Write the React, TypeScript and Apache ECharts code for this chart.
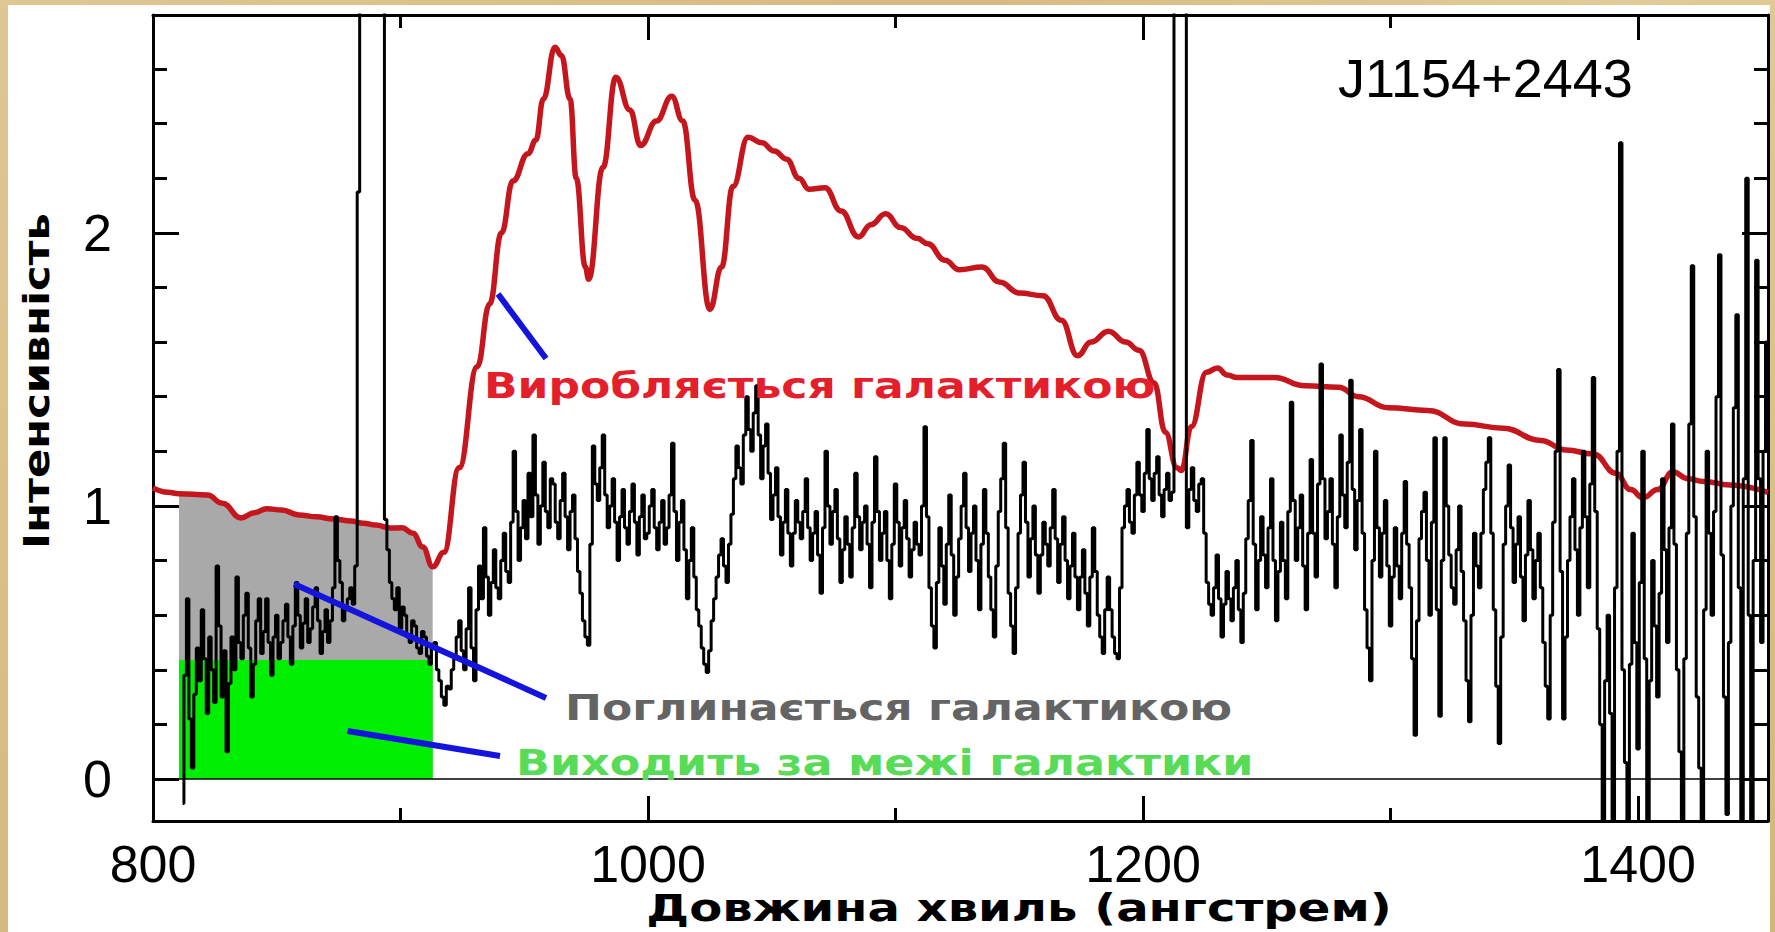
import React, { useEffect, useRef } from "react";
import * as echarts from "echarts";

// Observed spectrum: flux sampled every 1 Å starting at 812 Å
const lambdaStart = 812;
const lambdaStep = 1;

const flux0812 = [
  -0.09, 0.38, 0.66, 0.22, 0.04, 0.31, 0.48, 0.36, 0.62, 0.44,
  0.24, 0.52, 0.4, 0.28, 0.78, 0.56, 0.3, 0.47, 0.1, 0.35,
  0.52, 0.4, 0.74, 0.5, 0.44, 0.6, 0.68, 0.48, 0.3, 0.42,
  0.58, 0.66, 0.46, 0.54, 0.66, 0.5, 0.38, 0.52, 0.6, 0.44,
  0.5, 0.58, 0.64, 0.52, 0.42, 0.56, 0.72, 0.6, 0.48, 0.57,
  0.66, 0.5, 0.55, 0.63, 0.7, 0.58, 0.46, 0.54, 0.62, 0.5,
  0.58, 0.7, 0.96, 0.8, 0.72, 0.58, 0.62, 0.66, 0.7, 0.64,
  0.78, 2.15, 4.0, 4.0, 4.0, 4.0, 4.0, 4.0, 4.0, 4.0,
  4.0, 4.0, 0.95, 0.84, 0.72, 0.66, 0.62, 0.7, 0.55, 0.63,
  0.6, 0.52, 0.5, 0.58, 0.56, 0.48, 0.46, 0.54, 0.52, 0.45,
];
const flux0912 = [
  0.42, 0.48, 0.5, 0.4, 0.36, 0.3, 0.27, 0.34, 0.33, 0.4,
  0.44, 0.52, 0.58, 0.47, 0.4, 0.55, 0.7, 0.48, 0.36, 0.62,
  0.78, 0.66, 0.92, 0.74, 0.6, 0.72, 0.84, 0.7, 0.66, 0.8,
  0.9, 0.76, 0.72, 0.94, 1.2, 0.98, 0.8, 0.92, 1.02, 0.88,
  1.12, 0.96, 1.26, 1.04, 0.86, 1.0, 1.16, 0.98, 0.92, 1.1,
  1.08, 0.94, 0.88, 1.02, 1.12, 0.96, 0.84, 0.98, 1.04, 0.88,
  0.76, 0.68, 0.58, 0.52, 0.49, 0.86, 1.22, 1.08, 1.02, 1.14,
  1.26, 1.04, 0.92, 1.0, 1.1, 0.94, 0.8, 0.96, 1.06, 0.92,
  0.86, 0.98, 1.08, 0.94, 0.82, 0.96, 1.04, 0.88, 0.9, 1.0,
  1.06, 0.92, 0.84, 0.94, 1.02, 0.86, 0.92, 1.04, 1.23, 0.98,
];
const flux1012 = [
  0.8, 0.94, 1.02, 0.84, 0.66, 0.8, 0.92, 0.74, 0.62, 0.56,
  0.48, 0.42, 0.39, 0.47, 0.58, 0.66, 0.74, 0.82, 0.88, 0.78,
  0.72, 0.86, 0.97, 1.1, 1.22, 1.14, 1.08, 1.26, 1.4, 1.28,
  1.2, 1.34, 1.44, 1.26, 1.1, 1.22, 1.3, 1.12, 0.95, 1.04,
  1.14, 0.96, 0.82, 0.94, 1.06, 0.9, 0.78, 0.9, 1.02, 0.94,
  0.88, 0.98, 1.1, 0.92, 0.8, 0.9, 0.98, 0.82, 0.68, 0.92,
  1.2, 1.0, 0.86, 0.98, 1.06, 0.88, 0.72, 0.84, 0.96, 0.86,
  0.74, 0.92, 1.12, 0.96, 0.84, 0.94, 1.0, 0.86, 0.7, 0.94,
  1.18, 0.98, 0.8, 0.9, 0.98, 0.8, 0.66, 0.86, 1.08, 0.94,
  0.78, 0.92, 1.02, 0.88, 0.74, 0.84, 0.94, 0.86, 0.82, 1.0,
];
const flux1112 = [
  1.29, 0.96, 0.7, 0.56, 0.48, 0.72, 0.92, 0.78, 0.64, 0.86,
  1.04, 0.82, 0.6, 0.74, 0.88, 1.0, 1.12, 0.92, 0.76, 0.9,
  1.0, 0.8, 0.62, 0.86, 1.06, 0.9, 0.74, 0.62, 0.52, 0.78,
  0.98, 1.1, 1.23, 0.92, 0.68, 0.56, 0.46, 0.7, 0.9, 1.04,
  1.16, 0.94, 0.74, 0.88, 1.0, 0.82, 0.68, 0.82, 0.94, 0.86,
  0.78, 0.92, 1.06, 0.88, 0.72, 0.86, 0.96, 0.8, 0.66, 0.78,
  0.9, 0.74, 0.62, 0.74, 0.84, 0.68, 0.56, 0.74, 0.92, 0.76,
  0.6, 0.52, 0.46, 0.62, 0.74, 0.62, 0.52, 0.46, 0.44, 0.7,
  0.92, 1.0, 1.06, 0.94, 0.9, 1.04, 1.16, 1.04, 0.98, 1.12,
  1.28, 1.1, 1.02, 1.12, 1.18, 1.04, 0.96, 1.06, 1.12, 1.02,
];
const flux1212 = [
  1.05, 4.0, 4.0, 4.0, 4.0, 4.0, 0.92, 1.06, 1.14, 1.02,
  0.98, 1.08, 1.1, 0.9, 0.72, 0.64, 0.6, 0.7, 0.82, 0.66,
  0.52, 0.64, 0.76, 0.66, 0.58, 0.7, 0.8, 0.62, 0.5, 0.68,
  0.88, 1.02, 1.24, 0.86, 0.62, 0.8, 0.96, 0.82, 0.7, 0.92,
  1.1, 0.8, 0.58, 0.76, 0.94, 0.8, 0.66, 0.98, 1.38, 1.02,
  0.8, 0.92, 1.04, 0.78, 0.62, 0.9, 1.17, 0.9, 0.74, 1.08,
  1.52, 1.1, 0.88, 0.98, 1.1, 0.86, 0.7, 0.96, 1.26, 1.04,
  0.92, 1.16, 1.46, 1.06, 0.84, 1.02, 1.28, 0.9, 0.62, 0.48,
  0.36, 0.8, 1.2, 0.92, 0.74, 0.9, 1.02, 0.78, 0.56, 0.74,
  0.92, 0.78, 0.66, 0.9, 1.09, 0.86, 0.7, 0.44, 0.16, 0.58,
];
const flux1312 = [
  0.88, 0.98, 1.05, 0.8, 0.6, 0.94, 1.25, 0.62, 0.23, 0.8,
  1.25, 1.0, 0.82, 0.7, 0.64, 0.84, 1.0, 0.76, 0.58, 0.36,
  0.21, 0.6, 0.9, 0.78, 0.7, 0.9, 1.06, 1.16, 1.25, 0.9,
  0.62, 0.34, 0.13, 0.52, 0.86, 1.0, 1.15, 0.92, 0.72, 0.86,
  0.96, 0.74, 0.58, 0.82, 1.02, 0.84, 0.66, 0.8, 0.9, 0.7,
  0.5, 0.34, 0.22, 0.6, 0.94, 1.2, 1.5, 0.76, 0.22, 0.52,
  0.8, 0.96, 1.1, 0.84, 0.6, 0.92, 1.2, 0.96, 0.7, 1.08,
  1.47, 0.98, 0.55, 0.2, -0.2, 0.36, 0.6, 0.24, -0.2, 0.7,
  1.2, 2.33, 0.4, 0.06, -0.2, 0.42, 0.9, 0.5, 0.11, 0.72,
  1.2, 0.44, -0.2, 0.36, 0.8, 0.56, 0.3, 0.68, 1.1, 0.84,
];
const flux1412 = [
  0.5, 0.92, 1.3, 0.86, 0.4, 0.1, -0.2, 0.44, 0.9, 1.3,
  1.88, 0.96, 0.3, 0.04, -0.2, 0.62, 1.2, 0.9, 0.6, 0.98,
  1.4, 1.92, 0.82, 0.3, -0.13, 0.5, 1.0, 1.36, 1.7, 0.7,
  -0.2, 1.1, 2.2, 0.6, -0.2, 0.8, 1.9, 1.1, 0.5, 1.2, 1.6,
];

// Galaxy model spectrum (smooth curve)
const modelWavelength = [
  800, 806, 810.5, 822, 828, 835.6, 841, 846, 852, 859, 866, 873, 880, 885, 890,
  896, 900.6, 905, 909, 913, 917.5, 923.7, 931, 936, 940.8, 945.4,
  951.5, 954.7, 957.7, 962.4, 965, 968.5, 971, 974.7, 976, 981.8, 987, 992.7,
  997, 1003.4, 1009.6, 1014, 1019, 1025, 1029.7, 1034.3, 1040.4, 1046, 1051,
  1056, 1061, 1065, 1071.5, 1078, 1085, 1090, 1096, 1102, 1108.7, 1113, 1120,
  1125.7, 1135, 1142, 1150, 1159.6, 1167, 1173.5, 1179, 1186, 1193, 1198.4,
  1204.5, 1209, 1213.7, 1215.5, 1219.5, 1225.6, 1230, 1234, 1238, 1253, 1265.5,
  1279, 1287, 1299, 1315, 1330, 1345.5, 1360.6, 1371, 1382, 1391, 1397, 1402,
  1408, 1414, 1420, 1426.6, 1437, 1452.5,
];
const modelFlux = [
  1.066, 1.05, 1.045, 1.04, 1.01, 0.956, 0.975, 0.99, 0.985, 0.967, 0.96, 0.952,
  0.945, 0.937, 0.93, 0.919, 0.92, 0.9, 0.85, 0.777, 0.83, 1.14, 1.51, 1.74,
  2.0, 2.19, 2.29, 2.34, 2.49, 2.68, 2.65, 2.49, 2.2, 1.875, 1.83, 2.24,
  2.57, 2.45, 2.32, 2.41, 2.5, 2.41, 2.12, 1.72, 1.875, 2.17, 2.35, 2.33, 2.3,
  2.27, 2.2, 2.16, 2.165, 2.08, 1.985, 2.03, 2.07, 2.02, 1.98, 1.96, 1.9, 1.865,
  1.875, 1.82, 1.78, 1.77, 1.68, 1.55, 1.6, 1.64, 1.6, 1.57, 1.45, 1.27, 1.14,
  1.13, 1.29, 1.49, 1.505, 1.48, 1.47, 1.47, 1.44, 1.435, 1.4, 1.36, 1.35, 1.3,
  1.285, 1.24, 1.205, 1.19, 1.12, 1.06, 1.03, 1.06, 1.125, 1.1, 1.09, 1.077, 1.05,
];

// Lyman-continuum band below 912 Å
const bandFrom = 810.5;
const bandTo = 913;
const escapeLevel = 0.436;

// Axis ticks
const xLabels = [800, 1000, 1200, 1400];
const xMajor = [1000, 1200, 1400];
const xMinor = [900, 1100, 1300];
const yLabels = [0, 1, 2];
const yMinor = [0.2, 0.4, 0.6, 0.8, 1.2, 1.4, 1.6, 1.8, 2.2, 2.4, 2.6];

// Pointer strokes from the annotations to the curves
const pointerProduced = [[939.4, 1.776], [958.8, 1.54]];
const pointerAbsorbed = [[857, 0.714], [958.8, 0.297]];
const pointerEscaped = [[878.6, 0.176], [940.2, 0.084]];

const X_MIN = 800;
const X_MAX = 1452.5;
const Y_MIN = -0.1538;
const Y_MAX = 2.798;

const spectrumFlux = [
  ...flux0812, ...flux0912, ...flux1012, ...flux1112, ...flux1212, ...flux1312, ...flux1412,
];
const spectrum = spectrumFlux.map((v, i) => [lambdaStart + i * lambdaStep, v]);
const model = modelWavelength.map((w, i) => [w, modelFlux[i]]);
const absorbedArea = model.filter(([w]) => w >= bandFrom && w <= bandTo);
const escapeBand = [[bandFrom, escapeLevel], [bandTo, escapeLevel]];

const tickStyle = { color: "#000", width: 3 };
const numFont = { fontSize: 52, fontFamily: "Liberation Sans", color: "#000" };
const plainNumber = (v: number) => String(v);

function xAxisDef(position: string, ticks: number[], len: number, line: boolean, labels?: number[]) {
  return {
    type: "value",
    position,
    min: X_MIN,
    max: X_MAX,
    axisLine: { show: line, onZero: false, lineStyle: { color: "#000", width: 3 } },
    axisTick: { show: true, inside: true, length: len, customValues: ticks, lineStyle: tickStyle },
    axisLabel: labels
      ? { show: true, customValues: labels, margin: 17, formatter: plainNumber, ...numFont }
      : { show: false },
    splitLine: { show: false },
  };
}

function yAxisDef(position: string, ticks: number[], len: number, line: boolean, labels?: number[]) {
  return {
    type: "value",
    position,
    min: Y_MIN,
    max: Y_MAX,
    axisLine: { show: line, onZero: false, lineStyle: { color: "#000", width: 3 } },
    axisTick: { show: true, inside: true, length: len, customValues: ticks, lineStyle: tickStyle },
    axisLabel: labels
      ? { show: true, customValues: labels, margin: 41, formatter: plainNumber, ...numFont }
      : { show: false },
    splitLine: { show: false },
  };
}

function label(text: string, x: number, y: number, color: string, size: number, align: string, stretch: number, extra: any = {}) {
  return {
    type: "text",
    x,
    y,
    silent: true,
    z: 100,
    scaleX: stretch,
    ...extra,
    style: {
      text,
      fill: color,
      font: `bold ${size}px "DejaVu Sans"`,
      align,
      verticalAlign: "middle",
      textAlign: align,
      textVerticalAlign: "middle",
    },
  };
}

function pointer(data: number[][]) {
  return {
    type: "line",
    data,
    z: 7,
    silent: true,
    showSymbol: false,
    symbol: "none",
    lineStyle: { color: "#1414dc", width: 6 },
  };
}

const option = {
  animation: false,
  grid: { left: 145, top: 10, width: 1615, height: 806, containLabel: false },
  xAxis: [
    xAxisDef("bottom", xMajor, 25, true, xLabels),
    xAxisDef("bottom", xMinor, 13, false),
    xAxisDef("top", xMajor, 25, true),
    xAxisDef("top", xMinor, 13, false),
  ],
  yAxis: [
    yAxisDef("left", yLabels, 26, true, yLabels),
    yAxisDef("left", yMinor, 14, false),
    yAxisDef("right", yLabels, 26, true),
    yAxisDef("right", yMinor, 14, false),
  ],
  series: [
    {
      type: "line",
      data: absorbedArea,
      z: 2,
      silent: true,
      showSymbol: false,
      symbol: "none",
      smooth: 0.45,
      smoothMonotone: "x",
      lineStyle: { width: 0 },
      areaStyle: { color: "#a9a9a9", opacity: 1, origin: 0 },
    },
    {
      type: "line",
      data: escapeBand,
      z: 3,
      silent: true,
      showSymbol: false,
      symbol: "none",
      lineStyle: { width: 0 },
      areaStyle: { color: "#00ee00", opacity: 1, origin: 0 },
    },
    {
      type: "line",
      data: model,
      z: 4,
      silent: true,
      showSymbol: false,
      symbol: "none",
      smooth: 0.45,
      smoothMonotone: "x",
      lineStyle: { color: "#c4161c", width: 5.5 },
    },
    {
      type: "line",
      data: spectrum,
      z: 5,
      silent: true,
      step: "middle",
      showSymbol: false,
      symbol: "none",
      lineStyle: { color: "#000", width: 3 },
      markLine: {
        silent: true,
        symbol: "none",
        label: { show: false },
        lineStyle: { color: "#000", width: 1.5, type: "solid" },
        data: [{ yAxis: 0 }],
      },
    },
    pointer(pointerProduced),
    pointer(pointerAbsorbed),
    pointer(pointerEscaped),
  ],
  graphic: [
    label("Виробляється галактикою", 476, 381, "#e41e2b", 35, "left", 1.26),
    label("Поглинається галактикою", 557, 703, "#646464", 35, "left", 1.26),
    label("Виходить за межі галактики", 508, 758, "#58dc58", 35, "left", 1.27),
    label("Довжина хвиль (ангстрем)", 1011, 903, "#000", 37, "center", 1.3),
    label("Інтенсивність", 28, 376, "#000", 36, "center", 1.2, { rotation: Math.PI / 2 }),
    {
      type: "text",
      x: 1330,
      y: 73,
      silent: true,
      z: 100,
      style: {
        text: "J1154+2443",
        fill: "#000",
        font: '54px "Liberation Sans"',
        align: "left",
        verticalAlign: "middle",
        textAlign: "left",
        textVerticalAlign: "middle",
      },
    },
  ],
};

export default function App() {
  const ref = useRef<HTMLDivElement>(null);
  useEffect(() => {
    const chart = echarts.init(ref.current!, undefined, { renderer: "svg" });
    chart.setOption(option as any);
    return () => chart.dispose();
  }, []);
  return (
    <div
      style={{
        position: "fixed",
        left: 0,
        top: 0,
        width: 1775,
        height: 932,
        overflow: "hidden",
        background: "linear-gradient(135deg, #dfc792 0%, #d6b97f 35%, #e2cb98 60%, #d4b67c 100%)",
      }}
    >
      <div style={{ position: "absolute", left: 8, top: 5, width: 1762, height: 927, background: "#fff" }}>
        <div ref={ref} style={{ width: 1762, height: 927 }} />
      </div>
    </div>
  );
}
